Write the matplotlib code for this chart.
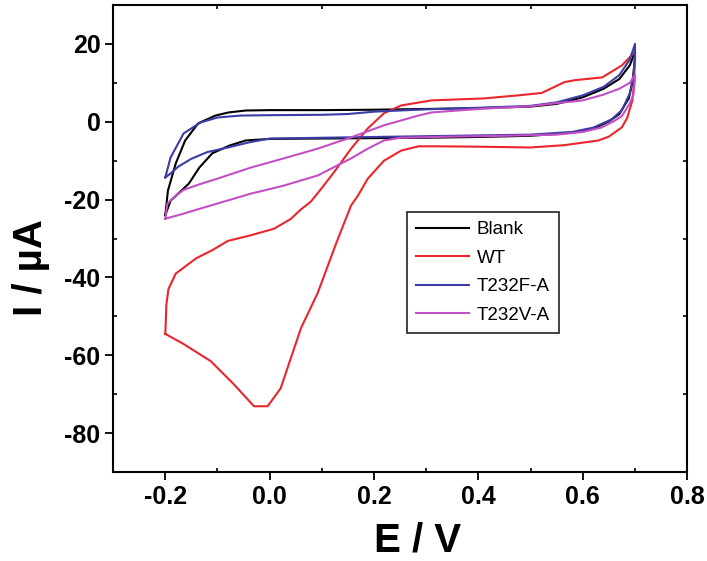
import matplotlib
matplotlib.use("Agg")
import matplotlib.pyplot as plt
from matplotlib.ticker import MultipleLocator

plt.rcParams["axes.unicode_minus"] = False

# cyclic voltammograms, each as one closed loop (forward then return scan)
E_blank = [-0.2, -0.195, -0.18, -0.162, -0.137, -0.104, -0.079, -0.046, 0.0, 0.1, 0.2, 0.3,
           0.4, 0.5, 0.55, 0.6, 0.64, 0.67, 0.69, 0.7,
           0.7, 0.695, 0.688, 0.67, 0.65, 0.62, 0.58, 0.5, 0.4, 0.3, 0.2, 0.1, 0.0,
           -0.046, -0.077, -0.11, -0.135, -0.155, -0.19, -0.2]
I_blank = [-24, -17.7, -10.7, -4.8, -0.4, 1.6, 2.4, 2.9, 3.0, 3.0, 3.1, 3.3,
           3.5, 3.9, 4.6, 6.3, 8.5, 11, 14.5, 18,
           16, 10, 6, 2, 0.1, -1.8, -2.8, -3.6, -3.9, -4.1, -4.2, -4.3, -4.4,
           -4.8, -6.1, -8.1, -11.8, -15.9, -20.3, -24]

E_wt = [-0.2, -0.198, -0.194, -0.18, -0.14, -0.11, -0.08, -0.04, 0.008, 0.04, 0.06, 0.079,
        0.1, 0.123, 0.156, 0.188, 0.219, 0.252, 0.31, 0.41, 0.477, 0.521, 0.565, 0.585,
        0.637, 0.675, 0.7,
        0.7, 0.698, 0.695, 0.685, 0.675, 0.65, 0.63, 0.565, 0.5, 0.4, 0.32, 0.285, 0.252,
        0.219, 0.188, 0.169, 0.156, 0.128, 0.092, 0.06, 0.021, -0.004, -0.03, -0.069,
        -0.113, -0.165, -0.2]
I_wt = [-54.5, -47, -43, -39, -35, -33, -30.6, -29.3, -27.5, -25, -22.5, -20.5,
        -17, -13, -6.9, -1.7, 2.2, 4.2, 5.5, 6.0, 6.8, 7.4, 10.2, 10.7,
        11.4, 14.5, 18,
        16, 10, 5.5, 1, -1.4, -3.8, -4.8, -6.0, -6.6, -6.4, -6.3, -6.3, -7.4,
        -10, -14.6, -19, -21.5, -31, -44, -53, -68.5, -73.1, -73.1, -67.4,
        -61.5, -57.1, -54.5]

E_f = [-0.2, -0.19, -0.165, -0.133, -0.1, -0.056, 0.0, 0.1, 0.15, 0.2, 0.3, 0.4, 0.5,
       0.55, 0.6, 0.64, 0.67, 0.69, 0.7,
       0.7, 0.697, 0.69, 0.675, 0.655, 0.62, 0.58, 0.5, 0.4, 0.3, 0.2, 0.1, 0.0,
       -0.04, -0.08, -0.12, -0.15, -0.175, -0.19, -0.2]
I_f = [-14.3, -9.2, -3, -0.2, 1.1, 1.6, 1.7, 1.8, 2.0, 2.6, 3.2, 3.6, 4.1,
       5.0, 6.8, 9, 12, 16, 20,
       18, 12, 7.3, 3, 0.6, -1.5, -2.6, -3.3, -3.5, -3.7, -3.9, -4.1, -4.3,
       -5.3, -6.6, -7.8, -9.5, -11.5, -13.3, -14.3]

E_v = [-0.2, -0.196, -0.18, -0.165, -0.133, -0.1, -0.037, 0.027, 0.092, 0.156, 0.219,
       0.285, 0.31, 0.4, 0.5, 0.55, 0.6, 0.64, 0.67, 0.69, 0.7,
       0.7, 0.697, 0.69, 0.675, 0.66, 0.635, 0.6, 0.55, 0.45, 0.35, 0.25, 0.219, 0.188,
       0.156, 0.092, 0.027, -0.037, -0.1, -0.133, -0.17, -0.2]
I_v = [-24.9, -21, -19, -17.5, -16, -14.6, -11.8, -9.4, -6.9, -4, -0.9,
       1.6, 2.4, 3.3, 4.0, 4.8, 5.5, 7, 8.5, 10, 12,
       11, 7, 4.7, 1.5, 0.2, -1.5, -2.6, -3.3, -3.6, -3.8, -4.1, -4.8, -6.9,
       -9.4, -13.8, -16.4, -18.5, -21, -22.3, -23.8, -24.9]

labels = ["Blank", "WT", "T232F-A", "T232V-A"]
colors = ["black", "#e8262c", "#3c3ca6", "#c24fc4"]
xtick_labels = ["-0.2", "0.0", "0.2", "0.4", "0.6", "0.8"]


fig = plt.figure(figsize=(7.07, 5.61), dpi=100)
ax = fig.add_axes([0.16, 0.1586, 0.812, 0.8324])

for (E, I), label, color in zip(
    [(E_blank, I_blank), (E_wt, I_wt), (E_f, I_f), (E_v, I_v)], labels, colors
):
    ax.plot(E, I, color=color, lw=1.5, label=label)

ax.set_xlim(-0.3, 0.8)
ax.set_ylim(-90, 30)
ax.xaxis.set_minor_locator(MultipleLocator(0.1))
ax.yaxis.set_major_locator(MultipleLocator(20))
ax.yaxis.set_minor_locator(MultipleLocator(10))
ax.set_xticks([-0.2, 0.0, 0.2, 0.4, 0.6, 0.8])
ax.set_xticklabels(xtick_labels)

for spine in ax.spines.values():
    spine.set_linewidth(1.5)

ax.tick_params(which="major", direction="out", length=6, width=1.3, pad=3,
               top=False, right=False)
ax.tick_params(which="minor", direction="in", length=3, width=1.2,
               top=True, right=True, bottom=True, left=True)
for lab in ax.get_xticklabels() + ax.get_yticklabels():
    lab.set_fontfamily(["Liberation Sans", "DejaVu Sans"])
    lab.set_fontweight("bold")
    lab.set_fontsize(18)

ax.set_xlabel("E / V", fontsize=29, fontweight="bold",
              family=["Liberation Sans", "DejaVu Sans"], va="top")
ax.set_ylabel("I / µA", fontsize=29, fontweight="bold",
              family=["Liberation Sans", "DejaVu Sans"])
ax.xaxis.set_label_coords(0.531, -0.105)
ax.yaxis.set_label_coords(-0.11, 0.437)

leg = ax.legend(loc="upper left", bbox_to_anchor=(0.512, 0.557), borderaxespad=0,
                fancybox=False, frameon=True, handlelength=2.8, handletextpad=0.4,
                labelspacing=0.6, borderpad=0.5,
                prop={"family": "Liberation Sans", "size": 13.5})
leg.get_frame().set_edgecolor("black")
leg.get_frame().set_linewidth(1.3)

fig.savefig("out.png", dpi=100)
